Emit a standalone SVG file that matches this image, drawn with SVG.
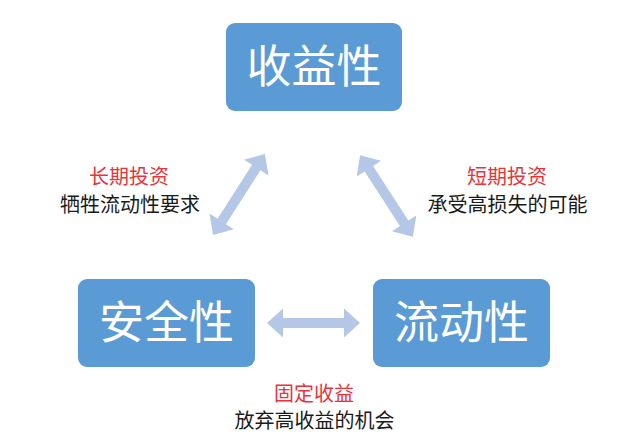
<svg xmlns="http://www.w3.org/2000/svg" width="640" height="445" viewBox="0 0 640 445">
<style>
.box{fill:#5b9bd5}
.bt{font-family:"Noto Sans CJK SC","Noto Sans",sans-serif;font-size:45px;fill:#ffffff;text-anchor:middle}
.arr{fill:#b4c7e7}
.red{font-family:"Noto Sans CJK SC","Noto Sans",sans-serif;font-size:20px;fill:#e8333b;text-anchor:middle}
.blk{font-family:"Noto Sans CJK SC","Noto Sans",sans-serif;font-size:20px;fill:#1a1a1a;text-anchor:middle}
</style>
<rect width="640" height="445" fill="#ffffff"/>
<g id="connectors">
<polygon class="arr" transform="translate(313.5,323)" points="-46.5,0 -30.5,-14.5 -30.5,-5 30.5,-5 30.5,-14.5 46.5,0 30.5,14.5 30.5,5 -30.5,5 -30.5,14.5"/>
<polygon class="arr" transform="translate(239,194.5) rotate(-57.3)" points="-48,0 -32,-14.5 -32,-5 32,-5 32,-14.5 48,0 32,14.5 32,5 -32,5 -32,14.5"/>
<polygon class="arr" transform="translate(386.5,196) rotate(57.1)" points="-48.5,0 -32.5,-14.5 -32.5,-5 32.5,-5 32.5,-14.5 48.5,0 32.5,14.5 32.5,5 -32.5,5 -32.5,14.5"/>
</g>
<g id="node-profit">
<rect class="box" x="226" y="23" width="176" height="88" rx="9"/>
<text class="bt" x="314" y="83">收益性</text>
</g>
<g id="node-safety">
<rect class="box" x="78" y="279" width="177" height="88" rx="9"/>
<text class="bt" x="166.5" y="339">安全性</text>
</g>
<g id="node-liquidity">
<rect class="box" x="373" y="279" width="177" height="88" rx="9"/>
<text class="bt" x="461.5" y="339">流动性</text>
</g>
<g id="label-left">
<text class="red" x="129" y="184">长期投资</text>
<text class="blk" x="130" y="212">牺牲流动性要求</text>
</g>
<g id="label-right">
<text class="red" x="507" y="184">短期投资</text>
<text class="blk" x="507.5" y="212">承受高损失的可能</text>
</g>
<g id="label-bottom">
<text class="red" x="314" y="401">固定收益</text>
<text class="blk" x="314.5" y="428">放弃高收益的机会</text>
</g>
</svg>
